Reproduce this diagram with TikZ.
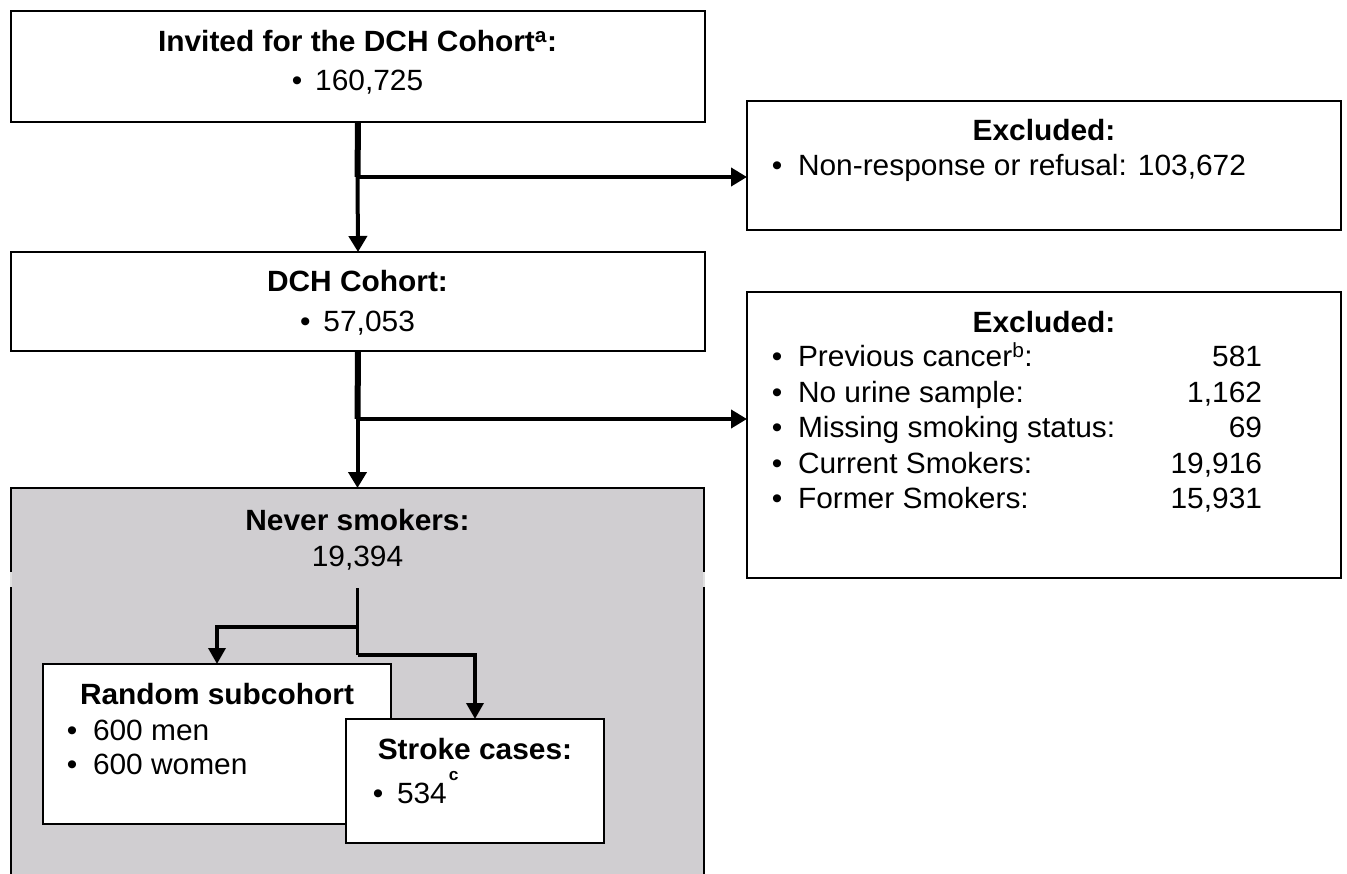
\documentclass[tikz,border=0pt]{standalone}
\usepackage{fontspec}
\setmainfont{Liberation Sans}[FakeStretch=1.02]
\usetikzlibrary{arrows.meta}
\definecolor{grayfill}{RGB}{208,206,209}
\begin{document}
\begin{tikzpicture}[x=1pt,y=-1pt,
  boxst/.style={draw=black, line width=2.8pt, fill=white, inner sep=0pt, outer sep=0pt, anchor=north west},
  tx/.style={inner sep=0pt, outer sep=0pt, font=\fontsize{29.3}{34}\selectfont},
  hd/.style={inner sep=0pt, outer sep=0pt, font=\fontsize{29.3}{34}\selectfont\bfseries},
  conn/.style={line width=4pt, -{Triangle[length=16pt,width=18pt]}},
  stem/.style={line width=6pt},
  inline/.style={line width=3.5pt},
  inconn/.style={line width=3.5pt, -{Triangle[length=16pt,width=17pt]}},
  sidegap/.style={line width=2.8pt, draw=black!12}]
\useasboundingbox (0,0) rectangle (1347,874);
% ---------- top box
\node[boxst, minimum width=694pt, minimum height=111pt] (inv) at (11,11) {};
\node[hd, anchor=base] (invt) at (357.5,52) {Invited for the DCH Cohort\textsuperscript{a}:};
\node[tx, anchor=base] (invn) at (357.5,91) {\textbullet\hspace{13pt}160,725};
% ---------- excluded 1
\node[boxst, minimum width=594pt, minimum height=129pt] (ex1) at (747,101) {};
\node[hd, anchor=base] (ex1t) at (1044,141) {Excluded:};
\node[tx, anchor=base] (ex1b) at (777,176) {\textbullet};
\node[tx, anchor=base west] (ex1n) at (798,176) {Non-response or refusal: 103,672};
% ---------- DCH cohort
\node[boxst, minimum width=694pt, minimum height=99pt] (coh) at (11,252) {};
\node[hd, anchor=base] (coht) at (357.5,292) {DCH Cohort:};
\node[tx, anchor=base] (cohn) at (357.5,332) {\textbullet\hspace{13pt}57,053};
% ---------- excluded 2
\node[boxst, minimum width=594pt, minimum height=286pt] (ex2) at (747,292) {};
\node[hd, anchor=base] (ex2t) at (1044,333) {Excluded:};
\node[tx, anchor=base] (ex2b1) at (777,367) {\textbullet};
\node[tx, anchor=base west] (ex2l1) at (798,367) {Previous cancer\textsuperscript{b}:};
\node[tx, anchor=base east] (ex2v1) at (1262,367) {581};
\node[tx, anchor=base] (ex2b2) at (777,403) {\textbullet};
\node[tx, anchor=base west] (ex2l2) at (798,403) {No urine sample:};
\node[tx, anchor=base east] (ex2v2) at (1262,403) {1,162};
\node[tx, anchor=base] (ex2b3) at (777,438) {\textbullet};
\node[tx, anchor=base west] (ex2l3) at (798,438) {Missing smoking status:};
\node[tx, anchor=base east] (ex2v3) at (1262,438) {69};
\node[tx, anchor=base] (ex2b4) at (777,473) {\textbullet};
\node[tx, anchor=base west] (ex2l4) at (798,473) {Current Smokers:};
\node[tx, anchor=base east] (ex2v4) at (1262,473) {19,916};
\node[tx, anchor=base] (ex2b5) at (777,508) {\textbullet};
\node[tx, anchor=base west] (ex2l5) at (798,508) {Former Smokers:};
\node[tx, anchor=base east] (ex2v5) at (1262,508) {15,931};
% ---------- never smokers (gray)
\node[fill=grayfill, inner sep=0pt, outer sep=0pt, minimum width=693pt, minimum height=400pt, anchor=north west] (nev) at (11,488) {};
\draw[line width=2.8pt] (11,572) -- (nev.north west) -- (nev.north east) -- (704,572);
\draw[line width=2.8pt] (11,587) -- (11,880);
\draw[line width=2.8pt] (704,587) -- (704,880);
\draw[sidegap] (11,572) -- (11,587);
\draw[sidegap] (704,572) -- (704,587);
\node[hd, anchor=base] (nevt) at (357.5,530) {Never smokers:};
\node[tx, anchor=base] (nevn) at (357.5,566) {19,394};
% ---------- random subcohort
\node[boxst, minimum width=348pt, minimum height=160pt] (rs) at (43,664) {};
\node[hd, anchor=base] (rst) at (217,704) {Random subcohort};
\node[tx, anchor=base] (rsb1) at (72,740) {\textbullet};
\node[tx, anchor=base west] (rsl1) at (93,740) {600 men};
\node[tx, anchor=base] (rsb2) at (72,774) {\textbullet};
\node[tx, anchor=base west] (rsl2) at (93,774) {600 women};
% ---------- stroke cases
\node[boxst, minimum width=258pt, minimum height=124pt] (sc) at (346,719) {};
\node[hd, anchor=base] (sct) at (475,759) {Stroke cases:};
\node[tx, anchor=base] (scb) at (378,803) {\textbullet};
\node[tx, anchor=base west] (scn) at (397,803) {534\hspace{2pt}\raisebox{23pt}{\fontsize{17}{17}\selectfont\bfseries c}};
% ---------- connectors
\coordinate (j1) at (357.5,177);
\draw[stem] (inv.south) -- (j1);
\draw[conn] (j1) -- (coh.north);
\draw[conn] (j1) -- (j1 -| ex1.west);
\coordinate (j2) at (357.5,419);
\draw[stem] (coh.south) -- (j2);
\draw[conn] (j2) -- (nev.north);
\draw[conn] (j2) -- (j2 -| ex2.west);
\coordinate (s3) at (357.5,588);
\coordinate (j3) at (357.5,627);
\coordinate (j4) at (357.5,655);
\draw[inline] (s3) -- (j4);
\draw[inconn] (j3) -| (rs.north);
\draw[inconn] (j4) -| (sc.north);
\end{tikzpicture}
\end{document}
